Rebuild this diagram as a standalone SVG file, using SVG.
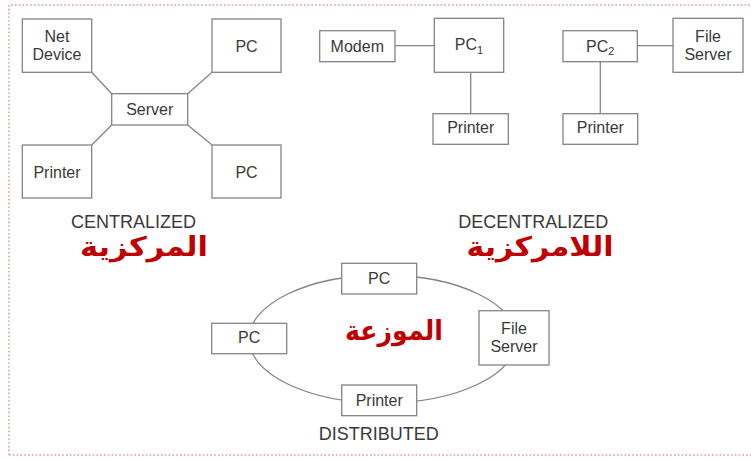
<svg xmlns="http://www.w3.org/2000/svg" width="751" height="459" viewBox="0 0 751 459">
<style>
.box{fill:#fff;stroke:#858585;stroke-width:1.3}
.ln{fill:none;stroke:#858585;stroke-width:1.3}
.t{font-family:"Liberation Sans",Arial,sans-serif;font-size:16px;fill:#3a3a3a;text-anchor:middle}
.sub{font-size:11px}
.cap{font-family:"Liberation Sans",Arial,sans-serif;font-size:18px;fill:#3a3a3a;text-anchor:middle}
.ar{font-family:"DejaVu Sans",sans-serif;font-weight:bold;font-size:27px;fill:#c00000;text-anchor:middle}
</style>
<rect width="751" height="459" fill="#fff"/>
<path d="M9 455 V5 H751 M9 455 H751" fill="none" stroke="#dc9a9a" stroke-width="1.5" stroke-dasharray="1.6 2.2"/>

<g id="connectors">
  <line class="ln" x1="91.7" y1="72.3" x2="111.7" y2="93.7"/>
  <line class="ln" x1="212" y1="72.3" x2="187.7" y2="93.7"/>
  <line class="ln" x1="111.7" y1="125" x2="91.7" y2="145"/>
  <line class="ln" x1="187.7" y1="125" x2="212" y2="145"/>
  <line class="ln" x1="395" y1="45.7" x2="434.3" y2="45.7"/>
  <line class="ln" x1="470.7" y1="72.3" x2="470.7" y2="113.7"/>
  <line class="ln" x1="637.3" y1="45.7" x2="673" y2="45.7"/>
  <line class="ln" x1="600.3" y1="61.7" x2="600.3" y2="113.7"/>
  <ellipse class="ln" cx="383" cy="339" rx="134" ry="64"/>
</g>

<g id="c-netdevice"><rect class="box" x="22.3" y="19" width="69.4" height="53.3"/><text class="t" x="57" y="41.7">Net</text><text class="t" x="57" y="60">Device</text></g>
<g id="c-pc1"><rect class="box" x="212" y="19" width="69" height="53.3"/><text class="t" x="246.5" y="51.7">PC</text></g>
<g id="c-server"><rect class="box" x="111.7" y="93.7" width="76" height="31.3"/><text class="t" x="149.7" y="115">Server</text></g>
<g id="c-printer"><rect class="box" x="22.3" y="145" width="69.4" height="53"/><text class="t" x="57" y="177.7">Printer</text></g>
<g id="c-pc2"><rect class="box" x="212" y="145" width="69" height="53"/><text class="t" x="246.5" y="177.7">PC</text></g>
<g id="c-label"><text class="cap" x="133.5" y="227.7">CENTRALIZED</text><text class="ar" x="144" y="256" textLength="128" lengthAdjust="spacingAndGlyphs">المركزية</text></g>

<g id="d-modem"><rect class="box" x="319.7" y="30.7" width="75.3" height="31"/><text class="t" x="357.3" y="51.7">Modem</text></g>
<g id="d-pc1"><rect class="box" x="434.3" y="18.3" width="69.4" height="54"/><text class="t" x="469" y="49.5">PC<tspan class="sub" dy="4">1</tspan></text></g>
<g id="d-printer1"><rect class="box" x="433" y="113.7" width="75.3" height="30.6"/><text class="t" x="470.7" y="133.3">Printer</text></g>
<g id="d-pc2"><rect class="box" x="563" y="30.7" width="74.3" height="31"/><text class="t" x="600.3" y="51.5">PC<tspan class="sub" dy="3.5">2</tspan></text></g>
<g id="d-fileserver"><rect class="box" x="673" y="18.3" width="70" height="54"/><text class="t" x="708" y="41.7">File</text><text class="t" x="708" y="60">Server</text></g>
<g id="d-printer2"><rect class="box" x="563" y="113.7" width="74.7" height="30.6"/><text class="t" x="600.3" y="133.3">Printer</text></g>
<g id="d-label"><text class="cap" x="533.3" y="227.7">DECENTRALIZED</text><text class="ar" x="540" y="256" textLength="147" lengthAdjust="spacingAndGlyphs">اللامركزية</text></g>

<g id="r-pc-top"><rect class="box" x="341.7" y="263.3" width="75" height="30.7"/><text class="t" x="379.2" y="284.3">PC</text></g>
<g id="r-pc-left"><rect class="box" x="211.7" y="323.3" width="75" height="30.4"/><text class="t" x="249.2" y="343.3">PC</text></g>
<g id="r-fileserver"><rect class="box" x="479" y="310.7" width="70" height="54.3"/><text class="t" x="514" y="334.3">File</text><text class="t" x="514" y="352.3">Server</text></g>
<g id="r-printer"><rect class="box" x="341.7" y="385" width="75" height="30.7"/><text class="t" x="379.2" y="406">Printer</text></g>
<g id="r-label"><text class="ar" x="394" y="340" textLength="98" lengthAdjust="spacingAndGlyphs">الموزعة</text><text class="cap" x="378.8" y="440">DISTRIBUTED</text></g>
</svg>
